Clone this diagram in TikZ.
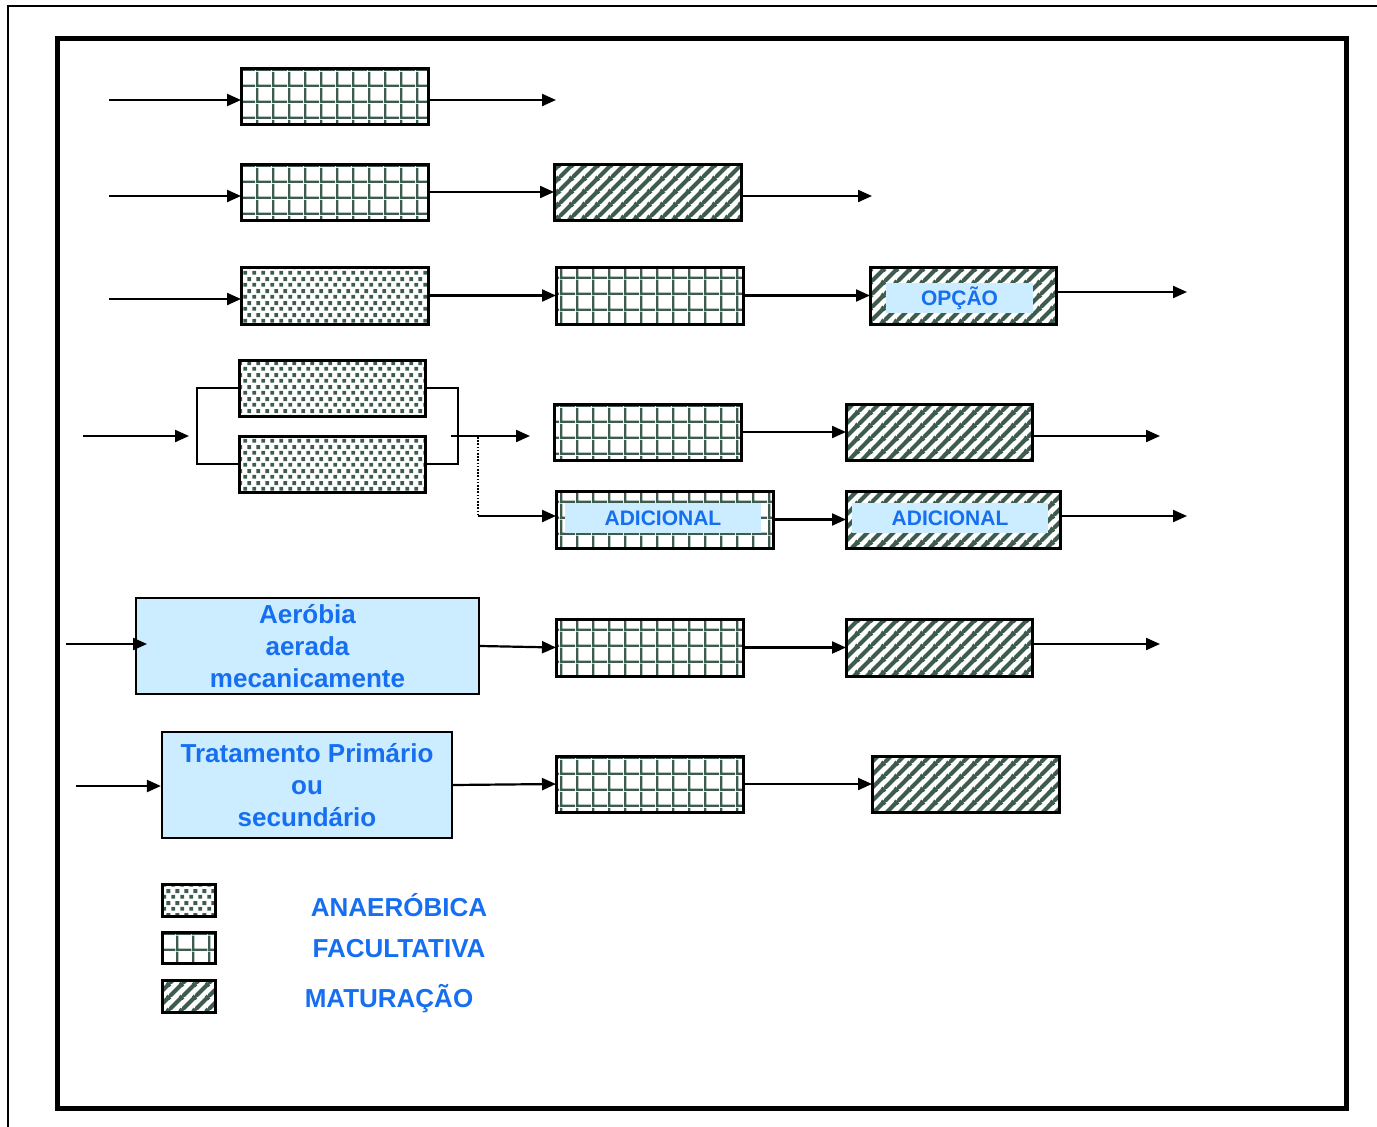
\documentclass[tikz,border=0pt]{standalone}
\usepackage{fontspec}
\setmainfont{Liberation Sans}
\usetikzlibrary{arrows.meta,patterns}
\definecolor{patc}{RGB}{62,92,78}
\definecolor{txtblue}{RGB}{22,110,240}
\definecolor{lblue}{RGB}{204,236,255}
\pgfdeclarepatternformonly{mygrid}{\pgfqpoint{0pt}{0pt}}{\pgfqpoint{16pt}{16pt}}{\pgfqpoint{16pt}{16pt}}{%
  \pgfpathrectangle{\pgfqpoint{0pt}{0pt}}{\pgfqpoint{16pt}{2.6pt}}%
  \pgfpathrectangle{\pgfqpoint{0pt}{0pt}}{\pgfqpoint{2.6pt}{16pt}}%
  \pgfusepath{fill}}
\pgfdeclarepatternformonly{myhatch}{\pgfqpoint{0pt}{0pt}}{\pgfqpoint{13pt}{13pt}}{\pgfqpoint{13pt}{13pt}}{%
  \pgfsetlinewidth{4.4pt}%
  \pgfpathmoveto{\pgfqpoint{-1pt}{-1pt}}\pgfpathlineto{\pgfqpoint{14pt}{14pt}}%
  \pgfpathmoveto{\pgfqpoint{-1pt}{12pt}}\pgfpathlineto{\pgfqpoint{1pt}{14pt}}%
  \pgfpathmoveto{\pgfqpoint{12pt}{-1pt}}\pgfpathlineto{\pgfqpoint{14pt}{1pt}}%
  \pgfusepath{stroke}}
\pgfdeclarepatternformonly{mydots}{\pgfqpoint{0pt}{0pt}}{\pgfqpoint{9pt}{12pt}}{\pgfqpoint{9pt}{12pt}}{%
  \pgfpathrectangle{\pgfqpoint{0.3pt}{0.3pt}}{\pgfqpoint{4.2pt}{4.2pt}}%
  \pgfpathrectangle{\pgfqpoint{4.8pt}{6.3pt}}{\pgfqpoint{4.2pt}{4.2pt}}%
  \pgfusepath{fill}}
\begin{document}
\begin{tikzpicture}[x=1pt,y=-1pt,
  box/.style={draw=black, line width=3pt, inner sep=0pt, outer sep=0pt},
  fac/.style={box, pattern=mygrid, pattern color=patc},
  mat/.style={box, pattern=myhatch, pattern color=patc},
  ana/.style={box, pattern=mydots, pattern color=patc},
  sz/.style n args={2}{minimum width=#1pt, minimum height=#2pt},
  bluebox/.style={draw=black, line width=2.2pt, fill=lblue, text=txtblue, align=center, inner sep=0pt,
     font=\bfseries\fontsize{26}{32}\selectfont},
  tag/.style={fill=lblue, text=txtblue, inner sep=0pt, font=\bfseries\fontsize{21}{24}\selectfont},
  leg/.style={text=txtblue, inner sep=0pt, font=\bfseries\fontsize{26}{30}\selectfont},
  arr/.style={line width=2.2pt, -{Triangle[length=14pt,width=12pt]}},
  ln/.style={line width=2.2pt},
]
\useasboundingbox (0,0) rectangle (1377,1127);
% frames
\draw[line width=1.5pt] (1377,6) -- (8,6) -- (8,1127);
\draw[line width=5pt] (57,38) rectangle (1346,1108);

% row 1
\node[fac, sz={187}{56}] (F1) at (334.5,96) {};
\coordinate (i1) at (109,100);
\coordinate (o1) at (556,100);
\draw[arr] (i1) -- (F1.west |- i1);
\draw[arr] (F1.east |- i1) -- (o1);

% row 2
\node[fac, sz={187}{56}] (F2) at (334.5,192) {};
\node[mat, sz={187}{56}] (M2) at (647.5,192) {};
\coordinate (i2) at (109,196);
\coordinate (o2) at (872,196);
\draw[arr] (i2) -- (F2.west |- i2);
\draw[arr] (F2.east) -- (M2.west);
\draw[arr] (M2.east |- o2) -- (o2);

% row 3
\node[ana, sz={187}{57}] (A3) at (334.5,295.5) {};
\node[fac, sz={187}{57}] (F3) at (649.5,295.5) {};
\node[mat, sz={186}{57}] (M3) at (963,295.5) {};
\node[tag, minimum width=147pt, minimum height=30pt] (T3) at (959.5,298) {OPÇÃO};
\coordinate (i3) at (109,299);
\coordinate (o3) at (1187,292);
\draw[arr] (i3) -- (A3.west |- i3);
\draw[arr] (A3.east) -- (F3.west);
\draw[arr] (F3.east) -- (M3.west);
\draw[arr] (M3.east |- o3) -- (o3);

% row 4
\node[ana, sz={186}{56}] (A4a) at (332,388) {};
\node[ana, sz={186}{56}] (A4b) at (332,464) {};
\node[fac, sz={187}{56}] (F4) at (647.5,432) {};
\node[mat, sz={186}{56}] (M4) at (939,432) {};
\coordinate (i4) at (83,436);
\coordinate (e4) at (189,436);
\coordinate (s4) at (451,436);
\coordinate (o4a) at (530,436);
\coordinate (d4) at (478,437);
\coordinate (d5) at (478,516);
\coordinate (o4) at (1160,436);
\draw[arr] (i4) -- (e4);
\draw[ln] (A4a.west) -- (197,388) -- (197,464) -- (A4b.west);
\draw[ln] (A4a.east) -- (458,388) -- (458,464) -- (A4b.east);
\draw[arr] (s4) -- (o4a);
\draw[arr] (F4.east) -- (M4.west);
\draw[arr] (M4.east |- o4) -- (o4);

% row 5
\node[fac, sz={217}{57}] (F5) at (664.5,519.5) {};
\node[mat, sz={214}{57}] (M5) at (953,519.5) {};
\node[tag, minimum width=196pt, minimum height=30pt] (T5a) at (663,518) {ADICIONAL};
\node[tag, minimum width=196pt, minimum height=30pt] (T5b) at (950,518) {ADICIONAL};
\coordinate (o5) at (1187,516);
\draw[line width=1.6pt, dash pattern=on 1.6pt off 1.6pt] (d4) -- (d5);
\draw[arr] (d5) -- (F5.west |- d5);
\draw[arr] (F5.east) -- (M5.west);
\draw[arr] (M5.east |- o5) -- (o5);

% row 6
\node[bluebox, sz={343}{96}] (AER) at (307.5,646) {Aeróbia\\aerada\\mecanicamente};
\node[fac, sz={187}{57}] (F6) at (649.5,647.5) {};
\node[mat, sz={186}{57}] (M6) at (939,647.5) {};
\coordinate (i6) at (66,644);
\coordinate (e6) at (147,644);
\coordinate (o6) at (1160,644);
\draw[arr] (i6) -- (e6);
\draw[arr] (AER.east) -- (F6.west);
\draw[arr] (F6.east) -- (M6.west);
\draw[arr] (M6.east |- o6) -- (o6);

% row 7
\node[bluebox, sz={290}{106}] (TRT) at (307,785) {Tratamento Primário\\ou\\secundário};
\node[fac, sz={187}{56}] (F7) at (649.5,784) {};
\node[mat, sz={187}{56}] (M7) at (965.5,784) {};
\coordinate (i7) at (76,786);
\draw[arr] (i7) -- (TRT.west |- i7);
\draw[arr] (TRT.east) -- (F7.west);
\draw[arr] (F7.east) -- (M7.west);

% legend
\node[ana, sz={53}{32}] (LA) at (188.5,900) {};
\node[fac, sz={53}{31}] (LF) at (188.5,947.5) {};
\node[mat, sz={53}{32}] (LM) at (188.5,996) {};
\node[leg] (tA) at (399,905) {ANAERÓBICA};
\node[leg] (tF) at (399,949) {FACULTATIVA};
\node[leg] (tM) at (389,999) {MATURAÇÃO};
\end{tikzpicture}
\end{document}
